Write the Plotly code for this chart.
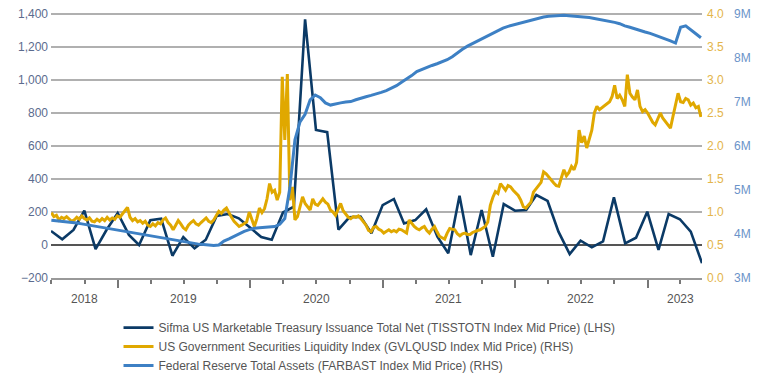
import pandas as pd
import plotly.graph_objects as go

# ---------------- data ----------------
# Sifma US Marketable Treasury Issuance Total Net (monthly, month-end, LHS)
tsy_dates = pd.date_range("2018-07-01", periods=60, freq="MS") - pd.Timedelta(days=1)
tsy_values = [85, 35, 91, 208, -25, 91, 194, 61, 0, 150, 160, -65,
              48, -20, 32, 176, 188, 162, 106, 48, 32, 197, 232, 1368,
              697, 684, 93, 168, 172, 71, 242, 279, 131, 151, 216, 50,
              -50, 299, -61, 212, -71, 248, 208, 212, 303, 267, 81, -55,
              26, -14, 22, 289, 10, 44, 202, -30, 188, 156, 81, -110]

# US Government Securities Liquidity Index (weekly, RHS 0-4)
gvl_dates = pd.date_range("2018-07-01", periods=257, freq="7D")
gvl_values = [
    0.99, 0.93, 0.95, 0.88, 0.92, 0.90, 0.93, 0.89, 0.86, 0.88,
    0.92, 0.89, 0.94, 0.90, 0.88, 0.91, 0.86, 0.85, 0.89, 0.86,
    0.90, 0.87, 0.92, 0.88, 0.91, 0.89, 0.94, 0.92, 0.97, 1.02,
    1.07, 0.92, 0.87, 0.90, 0.85, 0.87, 0.83, 0.86, 0.80, 0.78,
    0.82, 0.79, 0.84, 0.82, 0.88, 0.91, 0.84, 0.80, 0.73, 0.80,
    0.87, 0.82, 0.76, 0.73, 0.80, 0.84, 0.87, 0.82, 0.80, 0.84,
    0.88, 0.91, 0.86, 0.84, 0.88, 0.95, 1.01, 0.98, 1.03, 1.06,
    0.98, 0.92, 0.86, 0.82, 0.78, 0.80, 0.83, 0.85, 1.00, 0.88,
    0.78, 0.90, 1.06, 0.99, 1.05, 1.20, 1.43, 1.30, 1.33, 1.18,
    1.30, 3.05, 2.09, 3.09, 1.18, 1.38, 0.88, 0.93, 1.10, 1.23,
    1.13, 1.08, 1.03, 1.20, 1.12, 1.10, 1.16, 1.20, 1.15, 1.12,
    1.03, 1.00, 0.95, 1.05, 1.13, 1.02, 0.96, 0.92, 0.90, 0.93,
    0.92, 0.94, 0.90, 0.85, 0.80, 0.72, 0.70, 0.77, 0.78, 0.74,
    0.72, 0.68, 0.71, 0.73, 0.70, 0.72, 0.70, 0.74, 0.73, 0.70,
    0.68, 0.88, 0.82, 0.78, 0.75, 0.73, 0.76, 0.78, 0.72, 0.68,
    0.74, 0.78, 0.70, 0.63, 0.61, 0.59, 0.68, 0.75, 0.74, 0.73,
    0.67, 0.64, 0.67, 0.68, 0.66, 0.66, 0.69, 0.71, 0.72, 0.73,
    0.76, 0.78, 0.85, 1.10, 1.22, 1.31, 1.28, 1.43, 1.38, 1.33,
    1.40, 1.38, 1.33, 1.29, 1.25, 1.18, 1.08, 1.06, 1.10, 1.15,
    1.30, 1.36, 1.40, 1.45, 1.61, 1.58, 1.53, 1.48, 1.44, 1.40,
    1.39, 1.52, 1.64, 1.55, 1.60, 1.69, 1.64, 1.75, 2.24, 2.05,
    2.15, 1.97, 2.10, 2.24, 2.50, 2.60, 2.55, 2.58, 2.62, 2.64,
    2.67, 2.75, 2.92, 2.72, 2.77, 2.70, 2.60, 3.08, 2.80, 2.74,
    2.70, 2.85, 2.60, 2.52, 2.55, 2.50, 2.42, 2.36, 2.32, 2.40,
    2.50, 2.42, 2.37, 2.32, 2.27, 2.45, 2.65, 2.80, 2.67, 2.66,
    2.72, 2.70, 2.62, 2.65, 2.58, 2.60, 2.44]

# Federal Reserve Total Assets (bi-weekly, RHS)
fed_dates = pd.date_range("2018-07-01", periods=129, freq="14D")
fed_values = [
    4.31, 4.30, 4.29, 4.28, 4.27, 4.25, 4.23, 4.21, 4.18, 4.16,
    4.14, 4.12, 4.10, 4.08, 4.06, 4.05, 4.03, 4.01, 3.99, 3.97,
    3.95, 3.93, 3.91, 3.89, 3.87, 3.85, 3.83, 3.80, 3.78, 3.77,
    3.76, 3.75, 3.74, 3.75, 3.84, 3.89, 3.95, 4.01, 4.06, 4.10,
    4.13, 4.14, 4.15, 4.16, 4.17, 4.22, 4.35, 5.05, 6.14, 6.55,
    6.72, 7.05, 7.16, 7.10, 6.98, 6.93, 6.96, 6.98, 7.00, 7.01,
    7.05, 7.09, 7.12, 7.15, 7.18, 7.22, 7.26, 7.32, 7.37, 7.45,
    7.52, 7.60, 7.69, 7.74, 7.79, 7.83, 7.87, 7.91, 7.96, 8.03,
    8.12, 8.20, 8.27, 8.33, 8.38, 8.44, 8.50, 8.56, 8.63, 8.68,
    8.72, 8.75, 8.78, 8.81, 8.85, 8.88, 8.91, 8.93, 8.95, 8.96,
    8.97, 8.97, 8.96, 8.95, 8.95, 8.94, 8.92, 8.90, 8.88, 8.86,
    8.84, 8.81, 8.78, 8.73, 8.70, 8.66, 8.63, 8.59, 8.56, 8.52,
    8.48, 8.43, 8.39, 8.34, 8.70, 8.73, 8.63, 8.55, 8.46]

year_labels = ["2018", "2019", "2020", "2021", "2022", "2023"]
year_label_dates = ["2018-10-01", "2019-07-01", "2020-07-01", "2021-07-01", "2022-07-01", "2023-04-01"]
major_tick_dates = ["2019-01-01", "2020-01-01", "2021-01-01", "2022-01-01", "2023-01-01"]
minor_tick_dates = [str(d.date()) for d in pd.date_range("2018-07-01", "2023-04-01", freq="QS")]

names = ["Sifma US Marketable Treasury Issuance Total Net (TISSTOTN Index Mid Price) (LHS)",
         "US Government Securities Liquidity Index (GVLQUSD Index Mid Price) (RHS)",
         "Federal Reserve Total Assets (FARBAST Index Mid Price) (RHS)"]

NAVY = "#0b3a66"
GOLD = "#e0a800"
BLUE = "#3d80c4"
FONT = "Liberation Sans, Arial, sans-serif"

# the plot area extends 2px above the top gridline so that gridline is drawn
GRID_PX = 264.0
TOP_EXTRA = 2.0
SCALE = (GRID_PX + TOP_EXTRA) / GRID_PX

fig = go.Figure()
fig.add_trace(go.Scatter(x=tsy_dates, y=tsy_values, name=names[0], mode="lines",
                         line=dict(color=NAVY, width=2.6), yaxis="y"))
fig.add_trace(go.Scatter(x=gvl_dates, y=gvl_values, name=names[1], mode="lines",
                         line=dict(color=GOLD, width=3), yaxis="y2"))
fig.add_trace(go.Scatter(x=fed_dates, y=fed_values, name=names[2], mode="lines",
                         line=dict(color=BLUE, width=3), yaxis="y3"))

# the page body adds an 8px offset, so the figure is 8px smaller than the window
fig.update_layout(
    width=762, height=377,
    margin=dict(l=43, r=68, t=6 - TOP_EXTRA, b=107, autoexpand=False),
    paper_bgcolor="white", plot_bgcolor="white",
    font=dict(family=FONT, size=12, color="#555555"),
    showlegend=True,
    legend=dict(orientation="v", x=0.1037, xanchor="left", y=-0.132, yanchor="top",
                font=dict(size=12, color="#555555"), itemwidth=30,
                tracegroupgap=0, bgcolor="rgba(0,0,0,0)"),
    xaxis=dict(range=["2018-06-30", "2023-05-31"], type="date",
               showgrid=False, zeroline=False, automargin=False,
               showline=True, linecolor="#999999", linewidth=1.5,
               tickmode="array", tickvals=major_tick_dates, ticks="outside",
               ticklen=8, tickwidth=1.5, tickcolor="#777777", showticklabels=False,
               minor=dict(tickmode="array", tickvals=minor_tick_dates, ticks="outside",
                          ticklen=4, tickwidth=1.5, tickcolor="#777777", showgrid=False)),
    yaxis=dict(range=[-200, -200 + 1600 * SCALE], tickmode="linear", tick0=-200, dtick=200,
               tickformat=",", showgrid=True, gridcolor="#b0b0b0", gridwidth=1.5,
               zeroline=True, zerolinecolor="#555555", zerolinewidth=1.5,
               showline=False, ticks="", ticklabelstandoff=2, automargin=False,
               ticklabeloverflow="allow",
               tickfont=dict(family=FONT, size=12, color="#5b6b8e")),
    yaxis2=dict(range=[0, 4 * SCALE], tickmode="linear", tick0=0, dtick=0.5, tickformat=".1f",
                overlaying="y", side="right", showgrid=False, zeroline=False,
                showline=False, ticks="", ticklabelstandoff=4, automargin=False,
                ticklabeloverflow="allow",
                tickfont=dict(family=FONT, size=12, color="#e4b54a")),
    yaxis3=dict(range=[3, 3 + 6 * SCALE], tickmode="linear", tick0=3, dtick=1, ticksuffix="M",
                overlaying="y", side="right", anchor="free", position=1,
                showgrid=False, zeroline=False, showline=False, ticks="",
                ticklabelstandoff=31, automargin=False,
                ticklabeloverflow="allow",
                tickfont=dict(family=FONT, size=12, color="#6b93c9")),
)

for lab, d in zip(year_labels, year_label_dates):
    fig.add_annotation(x=d, xref="x", y=0, yref="paper", yanchor="top", yshift=-12,
                       text=lab, showarrow=False,
                       font=dict(family=FONT, size=12, color="#555555"))

fig.write_html("out.html")
